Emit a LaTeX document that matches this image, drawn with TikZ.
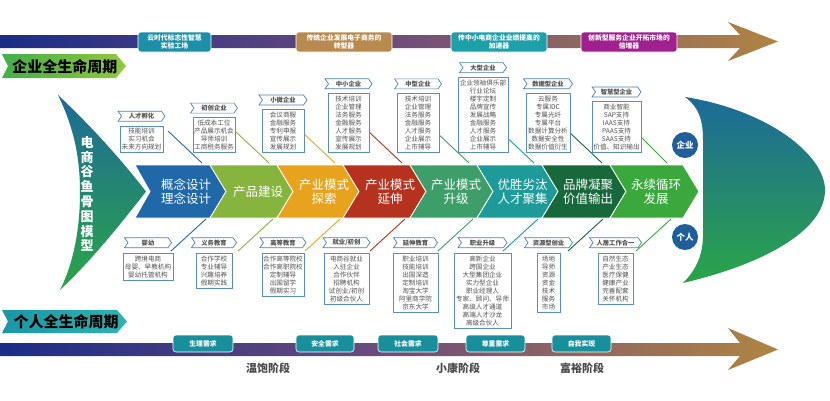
\documentclass[tikz,border=0pt]{standalone}
\usepackage{fontspec}
\setmainfont{Noto Sans CJK SC}
\usetikzlibrary{shapes.symbols,positioning}
\definecolor{cBlue}{HTML}{2068A8}
\definecolor{cLime}{HTML}{86B43E}
\definecolor{cOrange}{HTML}{E8A31E}
\definecolor{cRed}{HTML}{B4321E}
\definecolor{cMid}{HTML}{3E9E6A}
\definecolor{cTeal}{HTML}{1E9A98}
\definecolor{cDark}{HTML}{17683A}
\definecolor{cGreen}{HTML}{3AA83C}
\definecolor{navyB}{HTML}{1B2C86}
\definecolor{mauveB}{HTML}{6E4C7C}
\definecolor{goldB}{HTML}{B08442}
\definecolor{tagBlue}{HTML}{4A80B8}
\definecolor{boxBlue}{HTML}{5B8EC0}
\definecolor{txtGray}{HTML}{505050}
\definecolor{fishTop}{HTML}{1D6A98}
\definecolor{fishBot}{HTML}{2AA548}
\definecolor{circBlue}{HTML}{1F5E98}
\definecolor{lblG1}{HTML}{44AE48}
\definecolor{lblG2}{HTML}{92C83E}
\definecolor{lblT1}{HTML}{1A96A6}
\definecolor{lblT2}{HTML}{30B4B0}
\definecolor{labA}{HTML}{1E8FA8}
\definecolor{labB}{HTML}{B88A50}
\definecolor{labC}{HTML}{1EA0A8}
\definecolor{labD}{HTML}{A0208F}
\definecolor{labE}{HTML}{1A8F9C}
\definecolor{stageGray}{HTML}{4A4A4A}
\pgfdeclarehorizontalshading{banner}{100bp}{color(0bp)=(navyB); color(25bp)=(navyB); color(50bp)=(mauveB); color(75bp)=(goldB); color(100bp)=(goldB)}
\tikzset{
  tagn/.style={signal, signal to=east, signal from=west, signal pointer angle=110,
    draw=tagBlue, fill=white, line width=0.7pt, minimum height=10pt, inner sep=0pt,
    font=\fontsize{6.3}{7}\selectfont\bfseries, text=txtGray},
  boxn/.style={draw=boxBlue, fill=white, line width=0.7pt, align=center,
    inner xsep=1pt, inner ysep=2.2pt, font=\fontsize{6.6}{8.1}\selectfont, text=txtGray},
  chevtxt/.style={text=white, align=center, font=\fontsize{12.5}{14}\selectfont},
  chevfill/.style={draw=white, line width=0.8pt},
  toplab/.style={rounded corners=3pt, draw=white, line width=0.6pt, text=white, align=center,
    inner sep=0pt, font=\fontsize{6.8}{8}\selectfont\bfseries},
  circn/.style={circle, fill=circBlue, minimum size=26pt, inner sep=0pt, text=white,
    font=\fontsize{8.5}{9}\selectfont\bfseries},
  stagetxt/.style={text=stageGray, font=\fontsize{11}{12}\selectfont\bfseries},
  lifetxt/.style={text=black, font=\fontsize{15}{16}\selectfont\bfseries},
  bone/.style={line width=0.9pt}
}
\begin{document}
\begin{tikzpicture}[x=1pt,y=-1pt]
\useasboundingbox (0,0) rectangle (830,400);

% ---- top banner arrow ----
\shade[shading=banner] (0,35) -- (740,35) -- (728,22) -- (778,41.5) -- (728,61) -- (740,48) -- (0,48) -- cycle;
\node[toplab, fill=labA, minimum width=73pt, minimum height=20pt] (t1) at (174.5,42) {云时代标志性智慧\\实验工场};
\node[toplab, fill=labB, minimum width=96pt, minimum height=20pt] (t2) at (344,42) {传统企业发展电子商务的\\转型器};
\node[toplab, fill=labC, minimum width=96pt, minimum height=20pt] (t3) at (499,42) {传中小电商企业业绩提高的\\加速器};
\node[toplab, fill=labD, minimum width=96pt, minimum height=20pt] (t4) at (629,42) {创新型服务企业开拓市场的\\倍增器};

% ---- life-cycle labels ----
\shade[left color=lblG1, right color=lblG2] (2,54) -- (116,54) -- (126,66) -- (116,78) -- (2,78) -- (8,66) -- cycle;
\node[lifetxt] (qlab) at (65,66.5) {企业全生命周期};
\shade[left color=lblT1, right color=lblT2] (2,310) -- (117,310) -- (127,321.5) -- (117,333) -- (2,333) -- (8,321.5) -- cycle;
\node[lifetxt] (glab) at (66,322) {个人全生命周期};

% ---- bottom banner arrow ----
\shade[shading=banner] (0,343) -- (740,343) -- (728,328) -- (778,349.5) -- (728,370) -- (740,356) -- (0,356) -- cycle;
\node[toplab, fill=labE, minimum width=60pt, minimum height=17pt] (b1) at (203,343.5) {生理需求};
\node[toplab, fill=labE, minimum width=58pt, minimum height=17pt] (b2) at (325,343.5) {安全需求};
\node[toplab, fill=labE, minimum width=60pt, minimum height=17pt] (b3) at (408,343.5) {社会需求};
\node[toplab, fill=labE, minimum width=59pt, minimum height=17pt] (b4) at (495.5,343.5) {尊重需求};
\node[toplab, fill=labE, minimum width=59pt, minimum height=17pt] (b5) at (581.5,343.5) {自我实现};
\node[stagetxt] (s1) at (268,368) {温饱阶段};
\node[stagetxt] (s2) at (458,368) {小康阶段};
\node[stagetxt] (s3) at (582,368) {富裕阶段};

% ---- fish head ----
\shade[top color=fishTop, bottom color=fishBot] (58,95) .. controls (75,130) and (80,160) .. (80,192) .. controls (80,225) and (75,260) .. (60,290) .. controls (90,262) and (120,225) .. (146,191.5) .. controls (120,158) and (90,125) .. (58,95) -- cycle;
\node[text=white, align=center, font=\fontsize{13}{14.8}\selectfont\bfseries] (fishtxt) at (87,194) {电\\商\\谷\\鱼\\骨\\图\\模\\型};

% ---- fish tail ----
\shade[top color=fishTop, bottom color=fishBot] (685,97) .. controls (700,108) and (703,122) .. (703,140) -- (703,235) .. controls (703,255) and (696,270) .. (683,283) .. controls (760,265) and (825,232) .. (825,190) .. controls (825,155) and (768,110) .. (685,97) -- cycle;
\node[circn] (cq) at (685,145) {企业};
\node[circn] (cg) at (685,237) {个人};

% ---- bones ----
\foreach \i/\xs/\xe/\col in {1/168/202/cBlue, 2/235/269/cLime, 3/301/335/cOrange, 4/368/402/cRed, 5/435/469/cMid, 6/500/534/cTeal, 7/568/602/cDark, 8/635/667/cGreen}{
  \coordinate (ua\i) at (\xs,131);
  \coordinate (ub\i) at (\xe,163);
  \draw[bone, \col] (ua\i) -- (ub\i);
}
\foreach \i/\xs/\xe/\col in {1/206/171/cBlue, 2/273/238/cLime, 3/340/305/cOrange, 4/405/370/cRed, 5/473/438/cMid, 6/538/503/cTeal, 7/603/568/cDark, 8/671/636/cGreen}{
  \coordinate (la\i) at (\xs,219);
  \coordinate (lb\i) at (\xe,251);
  \draw[bone, \col] (la\i) -- (lb\i);
}

% ---- chevrons ----
\fill[cBlue, chevfill] (135,165) -- (210,165) -- (226,191.5) -- (210,218) -- (135,218) -- (150,191.5) -- cycle;
\fill[cLime, chevfill] (210,165) -- (277,165) -- (293,191.5) -- (277,218) -- (210,218) -- (226,191.5) -- cycle;
\fill[cOrange, chevfill] (277,165) -- (343,165) -- (359,191.5) -- (343,218) -- (277,218) -- (293,191.5) -- cycle;
\fill[cRed, chevfill] (343,165) -- (410,165) -- (426,191.5) -- (410,218) -- (343,218) -- (359,191.5) -- cycle;
\fill[cMid, chevfill] (410,165) -- (477,165) -- (493,191.5) -- (477,218) -- (410,218) -- (426,191.5) -- cycle;
\fill[cTeal, chevfill] (477,165) -- (542,165) -- (558,191.5) -- (542,218) -- (477,218) -- (493,191.5) -- cycle;
\fill[cDark, chevfill] (542,165) -- (610,165) -- (626,191.5) -- (610,218) -- (542,218) -- (558,191.5) -- cycle;
\fill[cGreen, chevfill] (610,165) -- (683,165) -- (699,191.5) -- (683,218) -- (610,218) -- (626,191.5) -- cycle;
\node[chevtxt] (c1) at (186,191.5) {概念设计\\理念设计};
\node[chevtxt] (c2) at (258,191.5) {产品建设};
\node[chevtxt] (c3) at (324,191.5) {产业模式\\探索};
\node[chevtxt] (c4) at (390,191.5) {产业模式\\延伸};
\node[chevtxt] (c5) at (456,191.5) {产业模式\\升级};
\node[chevtxt] (c6) at (522.5,191.5) {优胜劣汰\\人才聚集};
\node[chevtxt] (c7) at (588,191.5) {品牌凝聚\\价值输出};
\node[chevtxt] (c8) at (656,191.5) {永续循环\\发展};

% ---- upper boxes ----
\node[boxn, anchor=south, minimum width=43pt] (ub1) at (141.5,153) {技能培训\\实习机会\\未来方向规划};
\node[boxn, anchor=south, minimum width=42pt] (ub2) at (214,153) {低成本工位\\产品展示机会\\导师培训\\工商税务服务};
\node[boxn, anchor=south, minimum width=42pt] (ub3) at (283,153) {会议商服\\金融服务\\专利申报\\宣传展示\\发展规划};
\node[boxn, anchor=south, minimum width=41pt] (ub4) at (348.5,153) {技术培训\\企业管理\\法务服务\\金融服务\\人才服务\\宣传展示\\发展规划};
\node[boxn, anchor=south, minimum width=42pt] (ub5) at (418,153) {技术培训\\企业管理\\法务服务\\金融服务\\人才服务\\企业展示\\上市辅导};
\node[boxn, anchor=south, minimum width=50pt] (ub6) at (483,153) {企业领袖俱乐部\\行业论坛\\楼宇定制\\品牌宣传\\发展战略\\金融服务\\人才服务\\企业展示\\上市辅导};
\node[boxn, anchor=south, minimum width=44pt] (ub7) at (548,153) {云服务\\专属IDC\\专属光纤\\专属平台\\数据计算分析\\数据安全性\\数据价值衍生};
\node[boxn, anchor=south, minimum width=49pt] (ub8) at (616.5,153) {商业智能\\SAP支持\\IAAS支持\\PAAS支持\\SAAS支持\\价值、知识输出};
\node[tagn, minimum width=47pt, above=4pt of ub1] (ut1) {人才孵化};
\node[tagn, minimum width=47pt, above=4pt of ub2] (ut2) {初创企业};
\node[tagn, minimum width=48pt, above=4pt of ub3] (ut3) {小微企业};
\node[tagn, minimum width=47pt, above=4pt of ub4] (ut4) {中小企业};
\node[tagn, minimum width=47pt, above=4pt of ub5] (ut5) {中型企业};
\node[tagn, minimum width=47pt, above=4pt of ub6] (ut6) {大型企业};
\node[tagn, minimum width=49pt, above=4pt of ub7] (ut7) {数据型企业};
\node[tagn, minimum width=49pt, above=4pt of ub8] (ut8) {智慧型企业};

% ---- lower boxes ----
\node[boxn, anchor=north, minimum width=50pt] (lx1) at (148,253) {跨境电商\\母婴、早教机构\\婴幼托管机构};
\node[boxn, anchor=north, minimum width=36pt] (lx2) at (214,253) {合作学校\\专业辅导\\兴趣培养\\假期实践};
\node[boxn, anchor=north, minimum width=42pt] (lx3) at (283,253) {合作高等院校\\合作高职院校\\定制辅导\\出国留学\\假期实习};
\node[boxn, anchor=north, minimum width=45pt] (lx4) at (346.5,253) {电商谷就业\\入驻企业\\合作伙伴\\招聘机构\\试创业/初创\\初级合伙人};
\node[boxn, anchor=north, minimum width=45pt] (lx5) at (415.5,253) {职业培训\\技能培训\\出国深造\\定制培训\\淘宝大学\\阿里商学院\\京东大学};
\node[boxn, anchor=north, minimum width=57pt] (lx6) at (482.5,253) {高新企业\\跨国企业\\大型集团企业\\实力型企业\\职业经理人\\专家、顾问、导师\\高级人才通道\\高端人才沙龙\\高级合伙人};
\node[boxn, anchor=north, minimum width=23pt] (lx7) at (548.5,253) {场地\\导师\\资源\\资金\\技术\\服务\\市场};
\node[boxn, anchor=north, minimum width=35pt] (lx8) at (615.5,253) {自然生态\\产业生态\\医疗保健\\健康产业\\完善配套\\关怀机构};
\node[tagn, minimum width=47pt, above=5pt of lx1] (lt1) {婴幼};
\node[tagn, minimum width=45pt, above=5pt of lx2] (lt2) {义务教育};
\node[tagn, minimum width=46pt, above=5pt of lx3] (lt3) {高等教育};
\node[tagn, minimum width=47pt, above=5pt of lx4] (lt4) {就业/初创};
\node[tagn, minimum width=44pt, above=5pt of lx5] (lt5) {延伸教育};
\node[tagn, minimum width=49pt, above=5pt of lx6] (lt6) {职业升级};
\node[tagn, minimum width=48pt, above=5pt of lx7] (lt7) {资源型创业};
\node[tagn, minimum width=52pt, above=5pt of lx8] (lt8) {人居工作合一};
\end{tikzpicture}
\end{document}
